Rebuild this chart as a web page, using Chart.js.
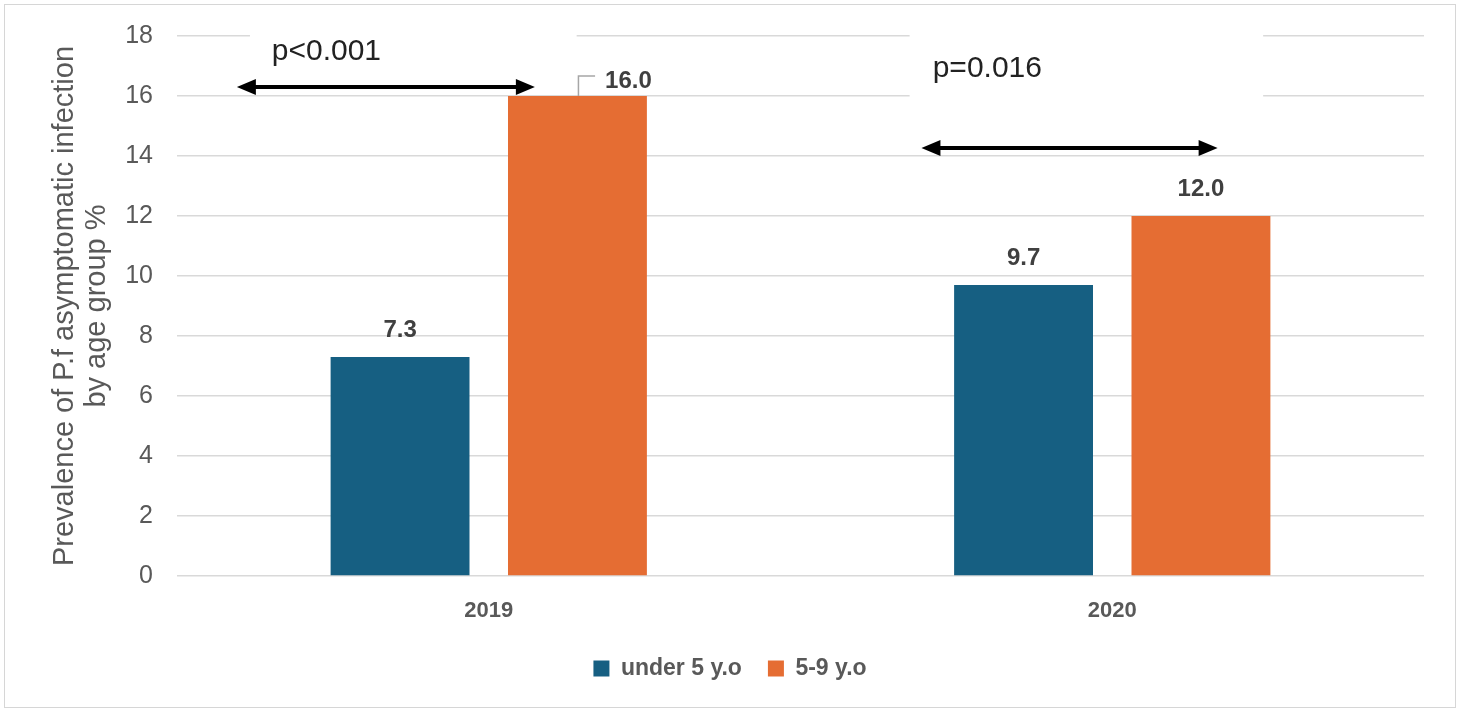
<!DOCTYPE html>
<html>
<head>
<meta charset="utf-8">
<script src="https://cdn.jsdelivr.net/npm/chart.js@4.4.1/dist/chart.umd.min.js"></script>
<style>
  html, body { margin: 0; padding: 0; background: #ffffff; }
  #wrap { position: relative; width: 1460px; height: 712px; }
  #frame { position: absolute; left: 4px; top: 4px; width: 1452px; height: 704px;
           border: 1.5px solid #d6d6d6; pointer-events: none; box-sizing: border-box; }
  canvas { display: block; }
</style>
</head>
<body>
<div id="wrap">
  <canvas id="chart" width="1460" height="712"></canvas>
  <div id="frame"></div>
</div>
<script>
// ---- data ----
const years = ['2019', '2020'];
const under5 = [7.3, 9.7];
const age5to9 = [16.0, 12.0];
const seriesNames = ['under 5 y.o', '5-9 y.o'];
const yTickMin = 0;
const yTickMax = 18;
const yTickStep = 2;
const axisTitle = ['Prevalence of P.f asymptomatic infection', 'by age group %'];
const pValues = ['p<0.001', 'p=0.016'];

// ---- styling ----
const BLUE = '#165F82';
const ORANGE = '#E56D33';
const GRID = '#d9d9d9';
const TICK = '#595959';
const LABEL = '#404040';
const FONT = "'Liberation Sans', Arial, sans-serif";

// significance markers, placed in axis units (category index, value)
const markers = [
  { text: pValues[0], tx: -0.348, ty: 17.2, ax0: -0.404, ax1: 0.074, ay: 16.3,
    mask: { x0: -0.383, x1: 0.141, y0: 18.4, y1: 17.0 } },
  { text: pValues[1], tx: 0.712, ty: 16.63, ax0: 0.694, ax1: 1.169, ay: 14.27,
    mask: { x0: 0.675, x1: 1.242, y0: 18.4, y1: 15.6 } }
];

// value labels: default gap above bar, plus one callout label moved aside
const LABEL_GAP = 27;
const calloutShift = { '1-0': { dx: 51, dy: 12 } };

const markerPlugin = {
  id: 'markers',
  beforeDatasetsDraw(chart) {
    const { ctx, scales: { x, y } } = chart;
    ctx.save();
    ctx.fillStyle = '#ffffff';
    markers.forEach(m => {
      const l = x.getPixelForValue(m.mask.x0), r = x.getPixelForValue(m.mask.x1);
      const t = y.getPixelForValue(m.mask.y0), b = y.getPixelForValue(m.mask.y1);
      ctx.fillRect(l, t, r - l, b - t);
    });
    ctx.restore();
  },
  afterDatasetsDraw(chart) {
    const { ctx, scales: { x, y } } = chart;
    ctx.save();
    markers.forEach(m => {
      // p-value text
      ctx.fillStyle = '#222222';
      ctx.font = '30px ' + FONT;
      ctx.textAlign = 'left';
      ctx.textBaseline = 'alphabetic';
      ctx.fillText(m.text, x.getPixelForValue(m.tx), y.getPixelForValue(m.ty));
      // double-headed arrow
      const x0 = x.getPixelForValue(m.ax0), x1 = x.getPixelForValue(m.ax1);
      const ay = y.getPixelForValue(m.ay);
      const head = 19, half = 8;
      ctx.strokeStyle = '#000000';
      ctx.lineWidth = 4;
      ctx.beginPath();
      ctx.moveTo(x0 + head - 2, ay);
      ctx.lineTo(x1 - head + 2, ay);
      ctx.stroke();
      ctx.fillStyle = '#000000';
      ctx.beginPath();
      ctx.moveTo(x0, ay); ctx.lineTo(x0 + head, ay - half); ctx.lineTo(x0 + head, ay + half);
      ctx.closePath(); ctx.fill();
      ctx.beginPath();
      ctx.moveTo(x1, ay); ctx.lineTo(x1 - head, ay - half); ctx.lineTo(x1 - head, ay + half);
      ctx.closePath(); ctx.fill();
    });

    // value labels
    ctx.font = 'bold 24px ' + FONT;
    ctx.textAlign = 'center';
    ctx.textBaseline = 'middle';
    chart.data.datasets.forEach((ds, di) => {
      chart.getDatasetMeta(di).data.forEach((bar, i) => {
        const txt = Number(ds.data[i]).toFixed(1);
        const shift = calloutShift[di + '-' + i];
        let lx = bar.x, ly = bar.y - LABEL_GAP;
        if (shift) {
          lx += shift.dx; ly += shift.dy;
          const w = ctx.measureText(txt).width;
          ctx.strokeStyle = '#a6a6a6';
          ctx.lineWidth = 1.5;
          ctx.beginPath();
          ctx.moveTo(bar.x + 1, bar.y);
          ctx.lineTo(bar.x + 1, ly - 5);
          ctx.lineTo(lx - w / 2 - 10, ly - 5);
          ctx.stroke();
        }
        ctx.fillStyle = LABEL;
        ctx.fillText(txt, lx, ly);
      });
    });
    ctx.restore();
  }
};

Chart.defaults.font.family = FONT;

new Chart(document.getElementById('chart'), {
  type: 'bar',
  data: {
    labels: years,
    datasets: [
      { label: seriesNames[0], data: under5, backgroundColor: BLUE, borderWidth: 0 },
      { label: seriesNames[1], data: age5to9, backgroundColor: ORANGE, borderWidth: 0 }
    ]
  },
  options: {
    responsive: false,
    animation: false,
    devicePixelRatio: 1,
    categoryPercentage: 0.569,
    barPercentage: 0.783,
    layout: { padding: { left: 0, right: 0, top: 36, bottom: 22 } },
    plugins: {
      tooltip: { enabled: false },
      title: { display: false },
      legend: {
        position: 'bottom',
        labels: {
          boxWidth: 16, boxHeight: 16, padding: 26,
          color: TICK,
          font: { size: 23, weight: 'bold', family: FONT }
        }
      }
    },
    scales: {
      x: {
        grid: { display: false },
        border: { display: false },
        ticks: { color: TICK, padding: 14, font: { size: 22, weight: 'bold' } },
        afterFit(s) { s.height = 55; }
      },
      y: {
        min: yTickMin, max: yTickMax,
        ticks: { stepSize: yTickStep, color: TICK, padding: 24, font: { size: 25 } },
        grid: { color: GRID, lineWidth: 1.5, drawTicks: false },
        border: { display: false },
        title: {
          display: true, text: axisTitle, color: TICK,
          font: { size: 29, lineHeight: 1.1 },
          padding: { top: 49, bottom: 0 }
        },
        afterFit(s) { s.width = 177; s.paddingTop = 0; s.paddingBottom = 0; }
      },
      gutter: {
        type: 'linear', position: 'right', display: true,
        grid: { display: false, drawTicks: false },
        border: { display: false },
        ticks: { display: false },
        afterFit(s) { s.width = 36; s.paddingTop = 0; s.paddingBottom = 0; }
      }
    }
  },
  plugins: [markerPlugin]
});
</script>
</body>
</html>
